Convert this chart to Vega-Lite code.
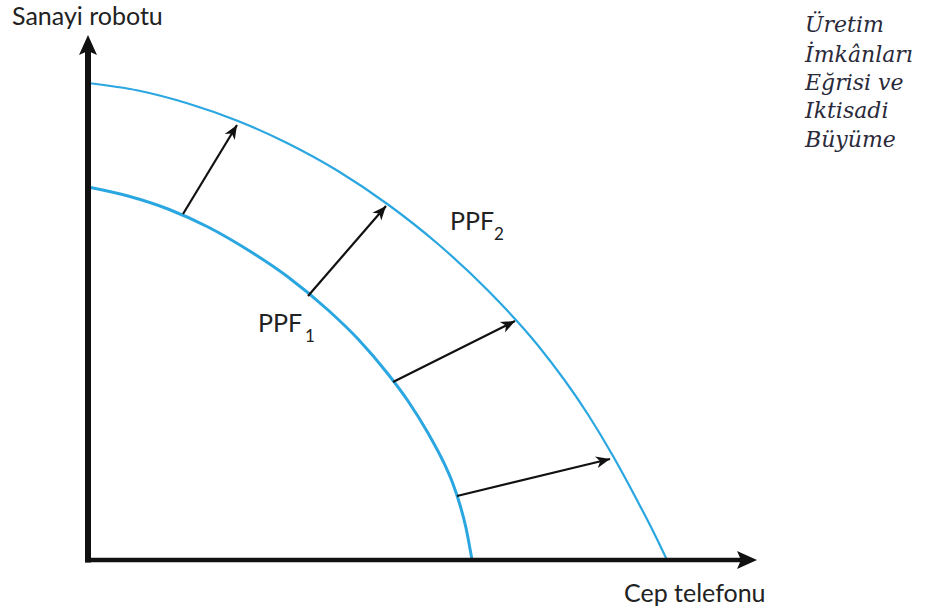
{
  "$schema": "https://vega.github.io/schema/vega-lite/v6.json",
  "width": 935,
  "height": 612,
  "autosize": {"type": "fit", "contains": "padding"},
  "padding": 0,
  "background": "white",
  "config": {"view": {"stroke": null}},
  "datasets": {
    "curves": [
      {"curve": "PPF1", "x": 0, "y": 373},
      {"curve": "PPF1", "x": 40, "y": 364},
      {"curve": "PPF1", "x": 80, "y": 351},
      {"curve": "PPF1", "x": 120, "y": 333},
      {"curve": "PPF1", "x": 160, "y": 310},
      {"curve": "PPF1", "x": 200, "y": 283},
      {"curve": "PPF1", "x": 240, "y": 250},
      {"curve": "PPF1", "x": 270, "y": 221},
      {"curve": "PPF1", "x": 300, "y": 186},
      {"curve": "PPF1", "x": 320, "y": 159},
      {"curve": "PPF1", "x": 340, "y": 127},
      {"curve": "PPF1", "x": 355, "y": 99},
      {"curve": "PPF1", "x": 365, "y": 76},
      {"curve": "PPF1", "x": 372, "y": 55},
      {"curve": "PPF1", "x": 378, "y": 32},
      {"curve": "PPF1", "x": 384, "y": 0},
      {"curve": "PPF2", "x": 0, "y": 477},
      {"curve": "PPF2", "x": 50, "y": 469.5},
      {"curve": "PPF2", "x": 100, "y": 456.5},
      {"curve": "PPF2", "x": 150, "y": 439},
      {"curve": "PPF2", "x": 200, "y": 416.5},
      {"curve": "PPF2", "x": 250, "y": 389},
      {"curve": "PPF2", "x": 300, "y": 355.5},
      {"curve": "PPF2", "x": 350, "y": 316},
      {"curve": "PPF2", "x": 400, "y": 269.5},
      {"curve": "PPF2", "x": 450, "y": 214.5},
      {"curve": "PPF2", "x": 500, "y": 145.5},
      {"curve": "PPF2", "x": 525, "y": 104},
      {"curve": "PPF2", "x": 550, "y": 58},
      {"curve": "PPF2", "x": 565, "y": 29},
      {"curve": "PPF2", "x": 579, "y": 0}
    ],
    "arrows": [
      {"x": 149, "y": 435, "xs": 95, "ys": 346},
      {"x": 298, "y": 354, "xs": 220, "ys": 264},
      {"x": 427, "y": 239, "xs": 305, "ys": 178},
      {"x": 522, "y": 101, "xs": 369, "ys": 64}
    ],
    "axes": [
      {"axis": "y", "x": 0, "y": 517, "xs": 0, "ys": -2.5},
      {"axis": "x", "x": 661, "y": 0, "xs": -3, "ys": 0}
    ],
    "texts": [
      {"group": "sans", "label": "Sanayi robotu", "x": -76, "y": 535},
      {"group": "sans", "label": "Cep telefonu", "x": 536, "y": -42},
      {"group": "ppf", "label": "PPF", "x": 362, "y": 330},
      {"group": "ppf", "label": "PPF", "x": 170, "y": 228},
      {"group": "sub", "label": "2", "x": 406, "y": 320},
      {"group": "sub", "label": "1", "x": 217, "y": 218},
      {"group": "serif", "label": "Üretim", "x": 717, "y": 528},
      {"group": "serif", "label": "İmkânları", "x": 717, "y": 498},
      {"group": "serif", "label": "Eğrisi ve", "x": 717, "y": 470},
      {"group": "serif", "label": "Iktisadi", "x": 717, "y": 442},
      {"group": "serif", "label": "Büyüme", "x": 717, "y": 413}
    ]
  },
  "encoding": {
    "x": {"field": "x", "type": "quantitative", "scale": {"domain": [-88, 847], "nice": false, "zero": false}, "axis": null},
    "y": {"field": "y", "type": "quantitative", "scale": {"domain": [-52, 560], "nice": false, "zero": false}, "axis": null}
  },
  "layer": [
    {
      "data": {"name": "curves"},
      "mark": {"type": "line", "interpolate": "monotone", "color": "#2aa6e0"},
      "encoding": {
        "detail": {"field": "curve", "type": "nominal"},
        "strokeWidth": {"field": "curve", "type": "ordinal", "scale": {"domain": ["PPF1", "PPF2"], "range": [3, 2.2]}, "legend": null}
      }
    },
    {
      "data": {"name": "arrows"},
      "mark": {"type": "rule", "color": "#111111", "strokeWidth": 2.2},
      "encoding": {
        "x2": {"field": "xs"},
        "y2": {"field": "ys"}
      }
    },
    {
      "data": {"name": "arrows"},
      "transform": [{"calculate": "atan2(datum.x - datum.xs, datum.y - datum.ys) * 180 / PI", "as": "ang"}],
      "mark": {"type": "point", "filled": true, "color": "#111111", "opacity": 1, "size": 784, "shape": "M0,0 L-0.42,1 L0,0.72 L0.42,1 Z"},
      "encoding": {
        "angle": {"field": "ang", "type": "quantitative", "scale": null}
      }
    },
    {
      "data": {"name": "axes"},
      "transform": [{"filter": "datum.axis == 'y'"}],
      "mark": {"type": "rule", "color": "#111111", "strokeWidth": 6},
      "encoding": {
        "x2": {"field": "xs"},
        "y2": {"field": "ys"}
      }
    },
    {
      "data": {"name": "axes"},
      "transform": [{"filter": "datum.axis == 'x'"}],
      "mark": {"type": "rule", "color": "#111111", "strokeWidth": 4.5},
      "encoding": {
        "x2": {"field": "xs"},
        "y2": {"field": "ys"}
      }
    },
    {
      "data": {"name": "axes"},
      "mark": {"type": "point", "filled": true, "color": "#111111", "opacity": 1, "size": 1600},
      "encoding": {
        "shape": {"field": "axis", "type": "nominal", "scale": {"domain": ["x", "y"], "range": ["M0.4,0 L-0.6,-0.45 L-0.4,0 L-0.6,0.45 Z", "M0,-0.4 L-0.45,0.6 L0,0.4 L0.45,0.6 Z"]}, "legend": null}
      }
    },
    {
      "data": {"name": "texts"},
      "transform": [{"filter": "datum.group == 'sans'"}],
      "mark": {"type": "text", "font": "Lato", "fontSize": 25, "align": "left", "baseline": "alphabetic", "color": "#222222"},
      "encoding": {"text": {"field": "label"}}
    },
    {
      "data": {"name": "texts"},
      "transform": [{"filter": "datum.group == 'ppf'"}],
      "mark": {"type": "text", "font": "Lato", "fontSize": 25, "align": "left", "baseline": "alphabetic", "color": "#222222"},
      "encoding": {"text": {"field": "label"}}
    },
    {
      "data": {"name": "texts"},
      "transform": [{"filter": "datum.group == 'sub'"}],
      "mark": {"type": "text", "font": "Lato", "fontSize": 17, "align": "left", "baseline": "alphabetic", "color": "#222222"},
      "encoding": {"text": {"field": "label"}}
    },
    {
      "data": {"name": "texts"},
      "transform": [{"filter": "datum.group == 'serif'"}],
      "mark": {"type": "text", "font": "DejaVu Serif", "fontSize": 22, "fontStyle": "italic", "align": "left", "baseline": "alphabetic", "color": "#2a2a3a"},
      "encoding": {"text": {"field": "label"}}
    }
  ]
}
